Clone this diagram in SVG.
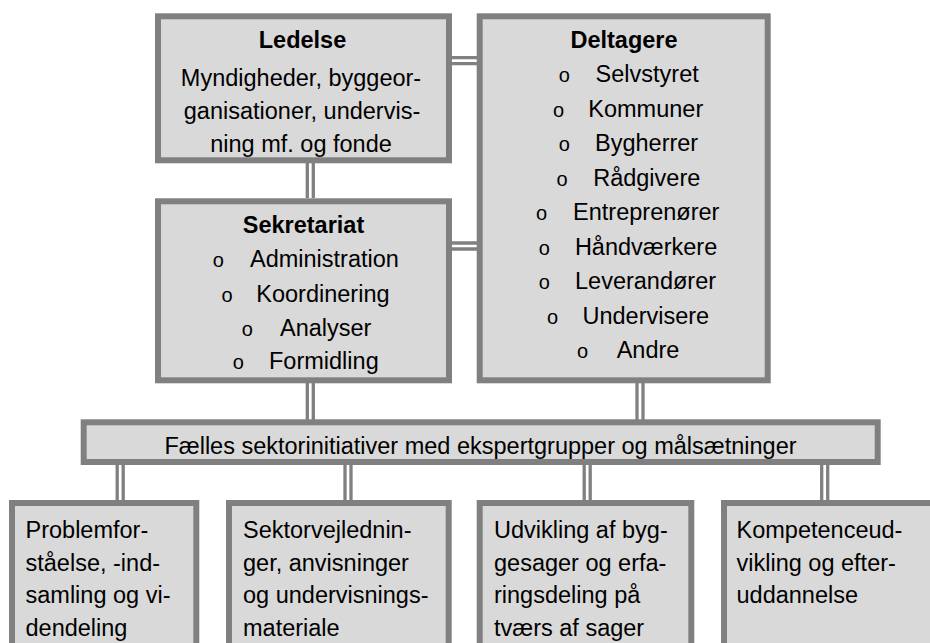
<svg xmlns="http://www.w3.org/2000/svg" width="930" height="643" viewBox="0 0 930 643">
<style>
.box{fill:#d9d9d9;stroke:#808080;stroke-width:6}
.t{font-family:"Liberation Sans",Arial,sans-serif;font-size:23.5px;fill:#000}
.b{font-weight:bold}
.c{text-anchor:middle}
.o{font-family:"Liberation Sans",Arial,sans-serif;font-size:20px;fill:#000}
.dlo{stroke:#808080;stroke-width:9.3;fill:none}
.dli{stroke:#ffffff;stroke-width:2.7;fill:none}
</style>
<rect width="930" height="643" fill="#ffffff"/>
<g id="connectors">
<path class="dlo" d="M310.3,163V198M452,60.7H477M452,246H477M310.3,383V420M640,383V420M120.2,465V500M348,465V500M587.2,465V500M824.7,465V500"/>
<path class="dli" d="M310.3,163V198M452,60.7H477M452,246H477M310.3,383V420M640,383V420M120.2,465V500M348,465V500M587.2,465V500M824.7,465V500"/>
</g>
<g id="ledelse">
<rect class="box" x="158" y="16.3" width="291" height="144"/>
<text class="t b c" x="302.5" y="47.5">Ledelse</text>
<text class="t c" x="301" y="85.5">Myndigheder, byggeor-</text>
<text class="t c" x="302" y="118.5">ganisationer, undervis-</text>
<text class="t c" x="301" y="151.5">ning mf. og fonde</text>
</g>
<g id="sekretariat">
<rect class="box" x="158" y="201.3" width="291" height="179"/>
<text class="t b c" x="303.5" y="233">Sekretariat</text>
<text class="o" x="212.8" y="267">o</text><text class="t" x="250" y="267">Administration</text>
<text class="o" x="221.5" y="301.5">o</text><text class="t" x="256.3" y="301.5">Koordinering</text>
<text class="o" x="241.8" y="335.5">o</text><text class="t" x="280" y="335.5">Analyser</text>
<text class="o" x="232.8" y="368.5">o</text><text class="t" x="269" y="368.5">Formidling</text>
</g>
<g id="deltagere">
<rect class="box" x="479.7" y="16.3" width="288" height="364"/>
<text class="t b c" x="624" y="47.5">Deltagere</text>
<text class="o" x="558.8" y="82">o</text><text class="t" x="595.6" y="82">Selvstyret</text>
<text class="o" x="553.1" y="116.5">o</text><text class="t" x="588.3" y="116.5">Kommuner</text>
<text class="o" x="558.8" y="151">o</text><text class="t" x="595" y="151">Bygherrer</text>
<text class="o" x="556.5" y="185.5">o</text><text class="t" x="593.2" y="185.5">Rådgivere</text>
<text class="o" x="536.1" y="220">o</text><text class="t" x="573.1" y="220">Entreprenører</text>
<text class="o" x="538.8" y="254.5">o</text><text class="t" x="574.9" y="254.5">Håndværkere</text>
<text class="o" x="538.8" y="289">o</text><text class="t" x="575" y="289">Leverandører</text>
<text class="o" x="547.1" y="323.5">o</text><text class="t" x="582.5" y="323.5">Undervisere</text>
<text class="o" x="577.1" y="358">o</text><text class="t" x="616.7" y="358">Andre</text>
</g>
<g id="faelles">
<rect class="box" x="83.7" y="422.3" width="794" height="39.7"/>
<text class="t c" x="480.5" y="453.5">Fælles sektorinitiativer med ekspertgrupper og målsætninger</text>
</g>
<g id="problem">
<rect class="box" x="12" y="503" width="184.3" height="200"/>
<text class="t" x="25.5" y="538">Problemfor-</text>
<text class="t" x="25.5" y="570.5">ståelse, -ind-</text>
<text class="t" x="25.5" y="603">samling og vi-</text>
<text class="t" x="25.5" y="635.5">dendeling</text>
</g>
<g id="sektorvejledninger">
<rect class="box" x="229" y="503" width="219.7" height="200"/>
<text class="t" x="243" y="538">Sektorvejlednin-</text>
<text class="t" x="243" y="570.5">ger, anvisninger</text>
<text class="t" x="243" y="603">og undervisnings-</text>
<text class="t" x="243" y="635.5">materiale</text>
</g>
<g id="udvikling">
<rect class="box" x="479.7" y="503" width="211.6" height="200"/>
<text class="t" x="494" y="538">Udvikling af byg-</text>
<text class="t" x="494" y="570.5">gesager og erfa-</text>
<text class="t" x="494" y="603">ringsdeling på</text>
<text class="t" x="494" y="635.5">tværs af sager</text>
</g>
<g id="kompetence">
<rect class="box" x="724" y="503" width="220" height="200"/>
<text class="t" x="736.5" y="538">Kompetenceud-</text>
<text class="t" x="736.5" y="570.5">vikling og efter-</text>
<text class="t" x="736.5" y="603">uddannelse</text>
</g>
</svg>
